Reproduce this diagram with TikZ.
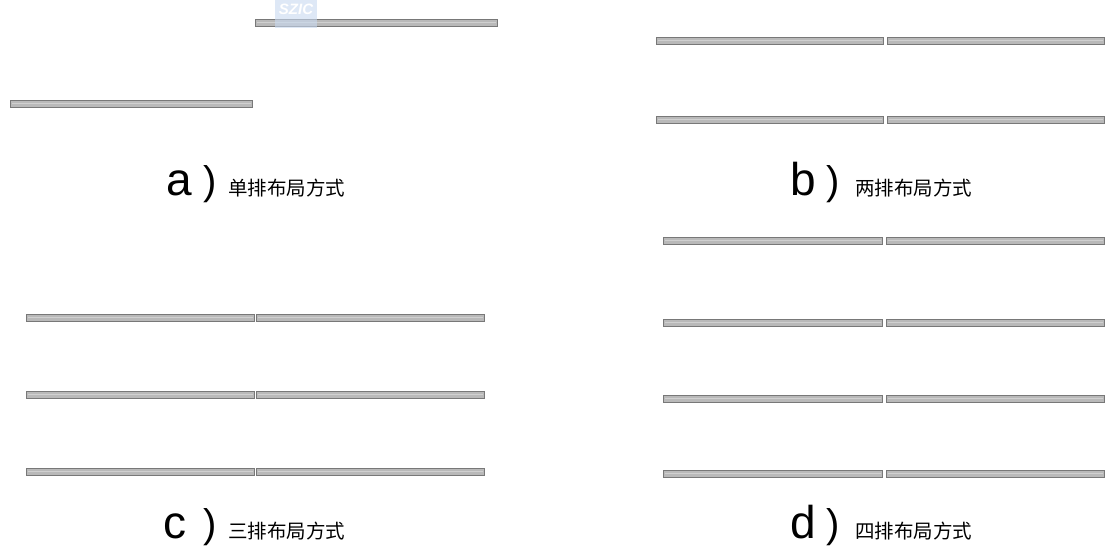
\documentclass[tikz,border=0pt]{standalone}
\usepackage{fontspec}
\setmainfont{Liberation Sans}
\newfontfamily\cjk{Noto Sans CJK SC}
\definecolor{barline}{RGB}{120,120,120}
\definecolor{barfill}{RGB}{185,185,185}
\definecolor{barmid}{RGB}{208,208,208}
\definecolor{wmark}{RGB}{200,218,240}
\newcommand{\onebar}[3]{%
  \draw[barstyle] (#1,#3) rectangle (#2,#3+7);
  \draw[barmidline] (#1+1.5,#3+3.5) -- (#2-1.5,#3+3.5);}
\newcommand{\pairbar}[5]{% x1 x2 x3 x4 y
  \onebar{#1}{#2}{#5}\onebar{#3}{#4}{#5}}
\begin{document}
\begin{tikzpicture}[x=1pt,y=-1pt,
  barstyle/.style={draw=barline,fill=barfill,line width=1pt},
  barmidline/.style={draw=barmid,line width=0.8pt},
  letter/.style={font=\fontsize{46}{46}\selectfont,inner sep=0pt,anchor=base},
  paren/.style={font=\fontsize{40}{40}\selectfont,inner sep=0pt,anchor=base},
  caption/.style={font=\cjk\fontsize{19.5}{20}\selectfont,inner sep=0pt,anchor=west}]
\useasboundingbox (0,0) rectangle (1105,547);
\fill[white] (0,0) rectangle (1105,547);
% panel a
\onebar{255}{497}{19}
\onebar{10}{252}{100}
\fill[wmark,opacity=0.6] (275,0) rectangle (317,28);
\node[font=\bfseries\itshape\fontsize{15}{15}\selectfont,text=white,inner sep=0pt] (wm) at (296,9) {SZIC};
% panel b
\pairbar{656}{883}{887}{1104}{37}
\pairbar{656}{883}{887}{1104}{116}
% panel c
\pairbar{26}{254}{256}{484}{314}
\pairbar{26}{254}{256}{484}{391}
\pairbar{26}{254}{256}{484}{468}
% panel d
\pairbar{663}{882}{886}{1104}{237}
\pairbar{663}{882}{886}{1104}{319}
\pairbar{663}{882}{886}{1104}{395}
\pairbar{663}{882}{886}{1104}{470}
% captions
\node[letter] (la) at (179,195) {a};
\node[paren] (pa) at (210,194) {)};
\node[caption] (ca) at (228,188) {单排布局方式};
\node[letter] (lb) at (803,195) {b};
\node[paren] (pb) at (833,194) {)};
\node[caption] (cb) at (855,188) {两排布局方式};
\node[letter] (lc) at (175,538) {c};
\node[paren] (pc) at (210,537) {)};
\node[caption] (cc) at (228,531) {三排布局方式};
\node[letter] (ld) at (803,538) {d};
\node[paren] (pd) at (833,537) {)};
\node[caption] (cd) at (855,531) {四排布局方式};
\end{tikzpicture}
\end{document}
